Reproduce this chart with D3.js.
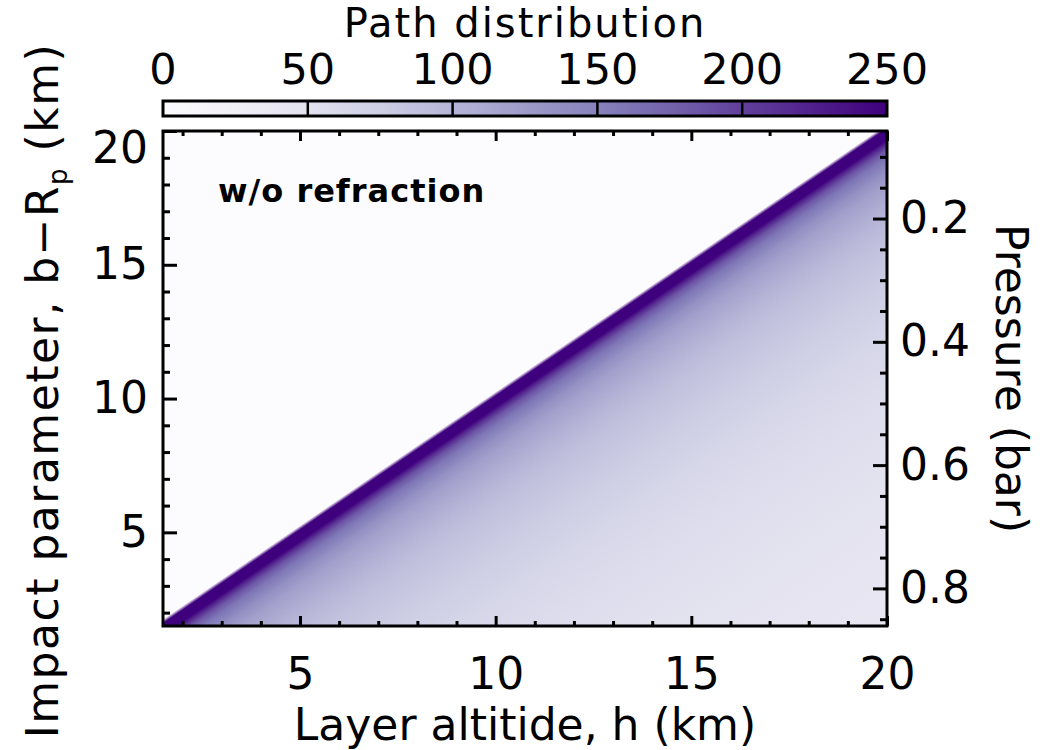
<!DOCTYPE html>
<html>
<head>
<meta charset="utf-8">
<script src="https://cdn.jsdelivr.net/npm/d3@7"></script>
<style>
  body { margin: 0; background: #fff; }
  text { font-family: "DejaVu Sans", sans-serif; fill: #000; }
</style>
</head>
<body>
<div id="chart"></div>
<script>
// axis ranges
const altDomain = [1.5, 20];        // layer altitude h (km)
const impactDomain = [1.5, 20];     // impact parameter b - Rp (km)
const pressureDomain = [0.058, 0.861]; // bar, right axis

const altTicks = [5, 10, 15, 20];
const impactTicks = [5, 10, 15, 20];
const pressureTicks = [0.2, 0.4, 0.6, 0.8];
const colorTicks = [0, 50, 100, 150, 200, 250];

// path distribution read across the diagonal, as a function of h - b (km)
const offsetKm  = [-18.5, -0.25, -0.1, 0.32, 0.5, 0.7, 1.0, 1.5, 2.0, 3.0, 4.0, 5.5, 7.5, 10, 13, 18.5];
const pathValue = [0,     0,     250,  250,  215, 185, 160, 136, 120, 102, 90,  78,  66,  56, 48, 40];

const W = 1050, H = 750;
const margin = { top: 131, right: 163, bottom: 124, left: 163 };
const width = W - margin.left - margin.right;
const height = H - margin.top - margin.bottom;

const svg = d3.select("#chart").append("svg")
    .attr("width", W)
    .attr("height", H);

const x = d3.scaleLinear().domain(altDomain).range([margin.left, margin.left + width]);
const y = d3.scaleLinear().domain(impactDomain).range([margin.top + height, margin.top]);
const yP = d3.scaleLinear().domain(pressureDomain).range([margin.top, margin.top + height]);
const color = d3.scaleSequential(d3.interpolatePurples).domain([0, 250]);

const defs = svg.append("defs");

// gradient perpendicular to the h = b line
const p0 = [x(altDomain[0]), y(altDomain[0])];
const dir = [x(altDomain[1]) - p0[0], y(altDomain[1]) - p0[1]];
const len = Math.hypot(dir[0], dir[1]);
const n = [-dir[1] / len, dir[0] / len];
const dist = c => (x(altDomain[0] + c) - x(altDomain[0])) * n[0];
const cMin = offsetKm[0], cMax = offsetKm[offsetKm.length - 1];

const grad = defs.append("linearGradient")
    .attr("id", "pathGrad")
    .attr("gradientUnits", "userSpaceOnUse")
    .attr("x1", p0[0] + n[0] * dist(cMin))
    .attr("y1", p0[1] + n[1] * dist(cMin))
    .attr("x2", p0[0] + n[0] * dist(cMax))
    .attr("y2", p0[1] + n[1] * dist(cMax));
grad.selectAll("stop")
    .data(offsetKm.map((c, i) => ({ c, v: pathValue[i] })))
    .join("stop")
    .attr("offset", d => (d.c - cMin) / (cMax - cMin))
    .attr("stop-color", d => color(d.v));

svg.append("rect")
    .attr("x", margin.left).attr("y", margin.top)
    .attr("width", width).attr("height", height)
    .attr("fill", "url(#pathGrad)");

// colour bar
const cScale = d3.scaleLinear().domain([0, 250]).range([margin.left, margin.left + width]);
const barGrad = defs.append("linearGradient")
    .attr("id", "barGrad")
    .attr("gradientUnits", "userSpaceOnUse")
    .attr("x1", cScale(0)).attr("x2", cScale(250))
    .attr("y1", 0).attr("y2", 0);
barGrad.selectAll("stop")
    .data(d3.range(0, 251, 25))
    .join("stop")
    .attr("offset", d => d / 250)
    .attr("stop-color", d => color(d));

const barY = 101, barH = 15;
svg.append("rect")
    .attr("x", cScale(0)).attr("y", barY)
    .attr("width", cScale(250) - cScale(0)).attr("height", barH)
    .attr("fill", "url(#barGrad)")
    .attr("stroke", "#000").attr("stroke-width", 3);

svg.selectAll(".cdiv")
    .data(colorTicks.slice(1, -1))
    .join("line")
    .attr("class", "cdiv")
    .attr("x1", d => cScale(d)).attr("x2", d => cScale(d))
    .attr("y1", barY).attr("y2", barY + barH)
    .attr("stroke", "#000").attr("stroke-width", 2.5);

svg.selectAll(".clab")
    .data(colorTicks)
    .join("text")
    .attr("class", "clab")
    .attr("x", d => cScale(d))
    .attr("y", 84)
    .attr("text-anchor", "middle")
    .attr("font-size", 43)
    .text(d => d);

svg.append("text")
    .attr("x", margin.left + width / 2)
    .attr("y", 37)
    .attr("text-anchor", "middle")
    .attr("font-size", 40)
    .attr("letter-spacing", 2)
    .text("Path distribution");

// axes
const minorAlt = d3.range(2, 20).filter(d => d % 5 !== 0);
const minorImpact = d3.range(2, 20).filter(d => d % 5 !== 0);
const minorP = d3.range(0.1, 0.86, 0.05).filter(d => Math.abs(d * 5 - Math.round(d * 5)) > 1e-6);

function styleAxis(g) {
    g.select(".domain").remove();
    g.selectAll("line").attr("stroke-width", 3);
    g.attr("font-size", 44).attr("font-family", "DejaVu Sans, sans-serif");
}

const bottom = margin.top + height, right = margin.left + width;

svg.append("g").attr("transform", `translate(0,${bottom})`)
    .call(d3.axisBottom(x).tickValues(altTicks).tickSize(-10).tickSizeOuter(0).tickPadding(32))
    .call(styleAxis);
svg.append("g").attr("transform", `translate(0,${bottom})`)
    .call(d3.axisBottom(x).tickValues(minorAlt).tickSize(-5).tickSizeOuter(0).tickFormat(""))
    .call(styleAxis);
svg.append("g").attr("transform", `translate(0,${margin.top})`)
    .call(d3.axisTop(x).tickValues(altTicks).tickSize(-10).tickSizeOuter(0).tickFormat(""))
    .call(styleAxis);
svg.append("g").attr("transform", `translate(0,${margin.top})`)
    .call(d3.axisTop(x).tickValues(minorAlt).tickSize(-5).tickSizeOuter(0).tickFormat(""))
    .call(styleAxis);

const leftAxis = svg.append("g").attr("transform", `translate(${margin.left},0)`)
    .call(d3.axisLeft(y).tickValues(impactTicks).tickSize(-14).tickSizeOuter(0).tickPadding(15))
    .call(styleAxis);
// keep the top label inside the frame, as in the original
leftAxis.selectAll(".tick text")
    .attr("y", d => Math.max(0, margin.top + 17 - y(d)));
svg.append("g").attr("transform", `translate(${margin.left},0)`)
    .call(d3.axisLeft(y).tickValues(minorImpact).tickSize(-7).tickSizeOuter(0).tickFormat(""))
    .call(styleAxis);

svg.append("g").attr("transform", `translate(${right},0)`)
    .call(d3.axisRight(yP).tickValues(pressureTicks).tickSize(-14).tickSizeOuter(0).tickPadding(13).tickFormat(d3.format(".1f")))
    .call(styleAxis);
svg.append("g").attr("transform", `translate(${right},0)`)
    .call(d3.axisRight(yP).tickValues(minorP).tickSize(-7).tickSizeOuter(0).tickFormat(""))
    .call(styleAxis);

// frame
svg.append("rect")
    .attr("x", margin.left).attr("y", margin.top)
    .attr("width", width).attr("height", height)
    .attr("fill", "none")
    .attr("stroke", "#000").attr("stroke-width", 3);

// titles
svg.append("text")
    .attr("x", margin.left + width / 2)
    .attr("y", 740)
    .attr("text-anchor", "middle")
    .attr("font-size", 44)
    .text("Layer altitide, h (km)");

const yTitle = svg.append("text")
    .attr("transform", `translate(58,${margin.top + height / 2 + 12}) rotate(-90)`)
    .attr("text-anchor", "middle")
    .attr("font-size", 44)
    .attr("letter-spacing", 1.5);
yTitle.append("tspan").text("Impact parameter, b\u2212R");
yTitle.append("tspan").attr("font-size", 26).attr("dy", 9).text("p");
yTitle.append("tspan").attr("dy", -9).text(" (km)");

svg.append("text")
    .attr("transform", `translate(996,${margin.top + height / 2}) rotate(90)`)
    .attr("text-anchor", "middle")
    .attr("font-size", 44)
    .text("Pressure (bar)");

svg.append("text")
    .attr("x", 218)
    .attr("y", 202)
    .attr("font-size", 32)
    .attr("font-weight", "bold")
    .attr("letter-spacing", 1)
    .text("w/o refraction");
</script>
</body>
</html>
